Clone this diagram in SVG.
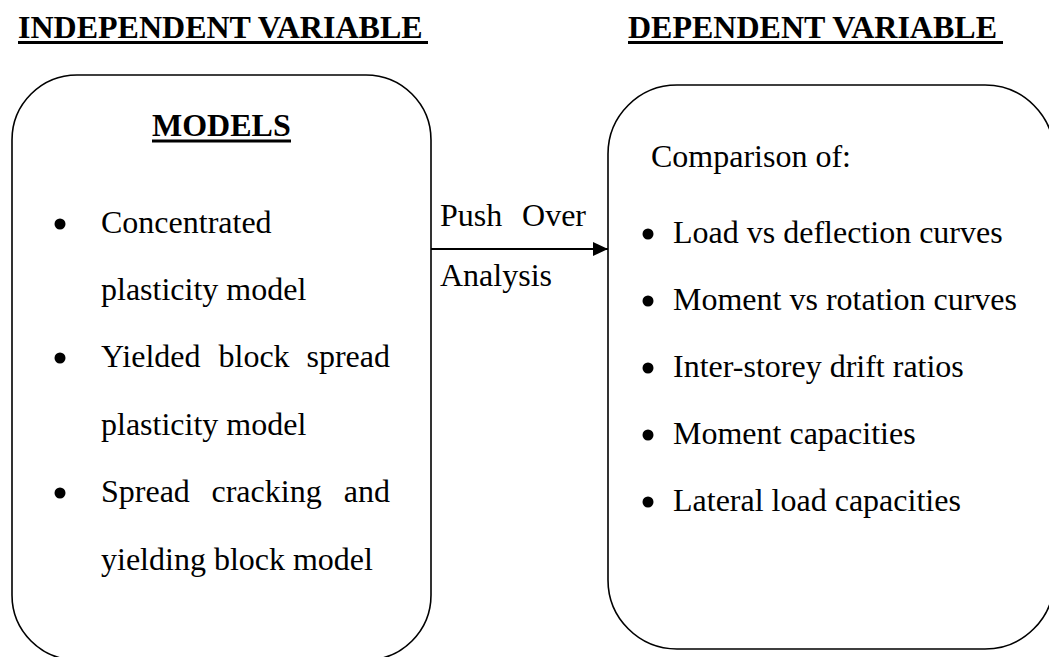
<svg xmlns="http://www.w3.org/2000/svg" width="1049" height="657" viewBox="0 0 1049 657">
  <style>
    text { font-family: "Liberation Serif", "Times New Roman", serif; font-size: 32px; fill: #000; }
    .bold { font-weight: bold; }
    .box { fill: none; stroke: #000; stroke-width: 1.6; }
    .rule { fill: #000; }
    .dot { fill: #000; }
  </style>
  <defs>
    <marker id="arrowHead" markerWidth="15" markerHeight="14" refX="15" refY="7" orient="auto" markerUnits="userSpaceOnUse">
      <path d="M0,0 L15,7 L0,14 Z" fill="#000"/>
    </marker>
  </defs>

  <rect width="1049" height="657" fill="#fff"/>

  <!-- column headings -->
  <g id="heading-independent">
    <text class="bold" x="18" y="38">INDEPENDENT VARIABLE</text>
    <rect class="rule" x="18" y="41" width="410" height="3"/>
  </g>
  <g id="heading-dependent">
    <text class="bold" x="628" y="38">DEPENDENT VARIABLE</text>
    <rect class="rule" x="628" y="41" width="375" height="3"/>
  </g>

  <!-- models box -->
  <g id="models">
    <rect class="box" x="12" y="75" width="419" height="585" rx="65" ry="65"/>
    <text class="bold" x="152" y="136">MODELS</text>
    <rect class="rule" x="152" y="139.5" width="139" height="3"/>
    <circle class="dot" cx="60" cy="224" r="5.5"/>
    <text x="101" y="233">Concentrated</text>
    <text x="101" y="300">plasticity model</text>
    <circle class="dot" cx="60" cy="358" r="5.5"/>
    <text y="367"><tspan x="101">Yielded</tspan><tspan x="218.5">block</tspan><tspan x="390" text-anchor="end">spread</tspan></text>
    <text x="101" y="435">plasticity model</text>
    <circle class="dot" cx="60" cy="493" r="5.5"/>
    <text y="502"><tspan x="101">Spread</tspan><tspan x="211.5">cracking</tspan><tspan x="390" text-anchor="end">and</tspan></text>
    <text x="101" y="570">yielding block model</text>
  </g>

  <!-- comparison box -->
  <g id="comparison">
    <rect class="box" x="608" y="85" width="446" height="564" rx="69" ry="69"/>
    <text x="651" y="167">Comparison of:</text>
    <circle class="dot" cx="648" cy="234" r="5.5"/>
    <text x="673" y="243">Load vs deflection curves</text>
    <circle class="dot" cx="648" cy="301" r="5.5"/>
    <text x="673" y="310">Moment vs rotation curves</text>
    <circle class="dot" cx="648" cy="368" r="5.5"/>
    <text x="673" y="377">Inter-storey drift ratios</text>
    <circle class="dot" cx="648" cy="435" r="5.5"/>
    <text x="673" y="444">Moment capacities</text>
    <circle class="dot" cx="648" cy="502" r="5.5"/>
    <text x="673" y="511">Lateral load capacities</text>
  </g>

  <!-- connector -->
  <g id="connectors">
    <line x1="431" y1="249" x2="608" y2="249" stroke="#000" stroke-width="2" marker-end="url(#arrowHead)"/>
    <text y="226"><tspan x="440">Push</tspan><tspan x="586" text-anchor="end">Over</tspan></text>
    <text x="440" y="286">Analysis</text>
  </g>
</svg>
